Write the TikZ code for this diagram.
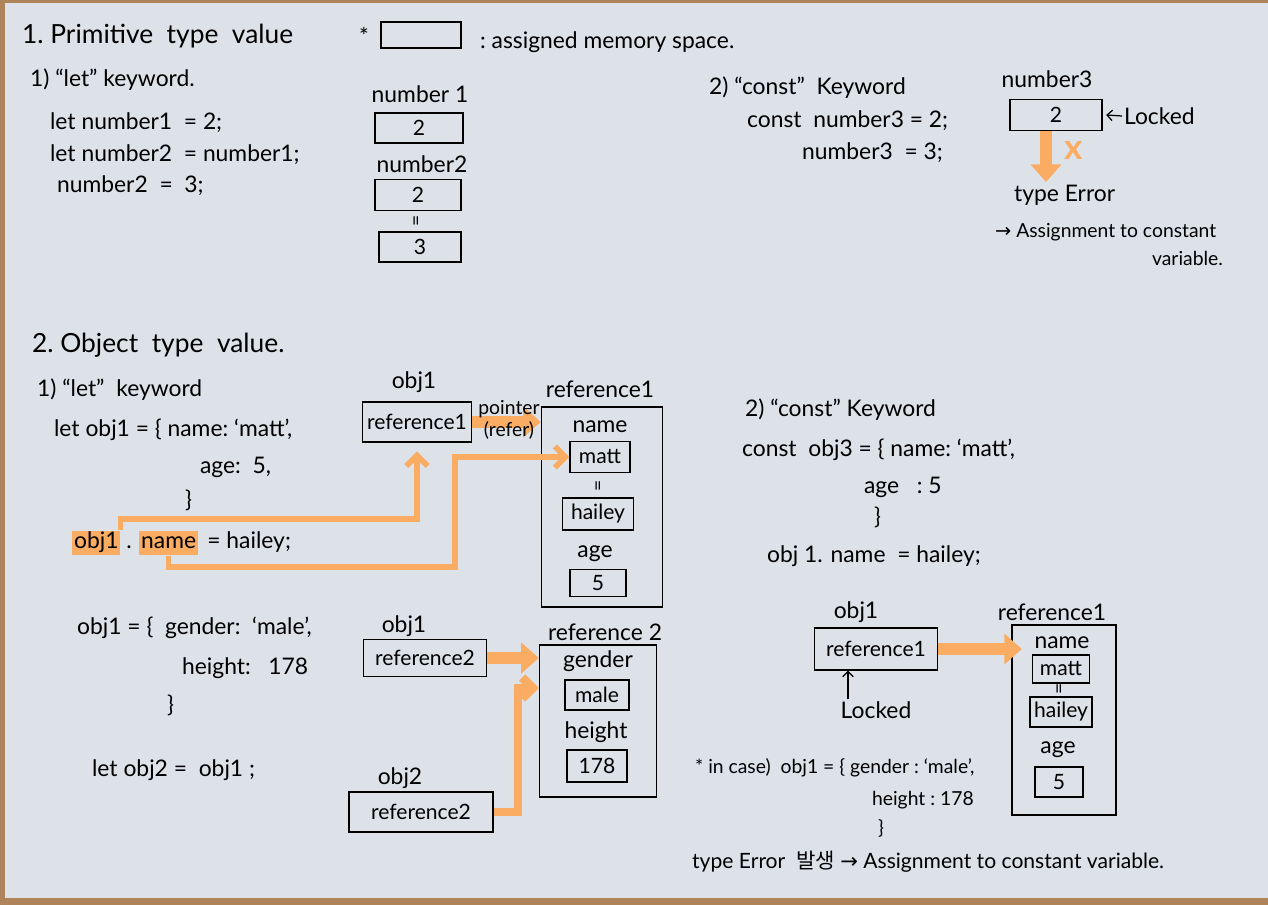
\documentclass[tikz,border=0pt]{standalone}
\usepackage{fontspec}
\setmainfont{Lato}
\newfontfamily\krfont{Noto Sans CJK KR}
\newfontfamily\symfont{DejaVu Sans}
\usetikzlibrary{arrows.meta,positioning}

\definecolor{paper}{RGB}{221,226,233}
\definecolor{wood}{RGB}{176,132,90}
\definecolor{marker}{RGB}{250,172,98}

\tikzset{
  hand/.style={inner sep=1pt, font=\fontsize{13}{15}\selectfont},
  small/.style={inner sep=1pt, font=\fontsize{11}{13}\selectfont},
  head/.style={inner sep=1pt, font=\fontsize{15}{18}\selectfont},
  inl/.style={hand, text height=9pt, text depth=3pt},
  membox/.style={draw, line width=0.8pt, inner sep=1pt, font=\fontsize{12}{14}\selectfont},
  pen/.style={line width=0.7pt},
  hlfat/.style={draw=marker, line width=7pt, -{Triangle[length=10pt,width=17pt]}},
  hlthin/.style={draw=marker, line width=3.2pt, -{Straight Barb[length=6pt,width=12pt]}},
  hlword/.style={fill=marker}
}

\begin{document}
\begin{tikzpicture}[x=0.02cm, y=-0.02cm]
    \useasboundingbox (0,0) rectangle (1268,905);
    \fill[paper] (0,0) rectangle (1268,905);
    \fill[wood] (0,0) rectangle (1268,3);
    \fill[wood] (0,0) rectangle (5,905);
    \fill[wood] (0,898) rectangle (1268,905);

    % 1. primitive type value
    \node at (20,36) [head, anchor=west] (title1) {1.\ Primitive\ \ type\ \ value};
    \node at (364,36) [hand] (star) {*};
    \node at (421,35) [membox, minimum width=1.6cm, minimum height=0.52cm] (legend) {};
    \node at (478,42) [hand, anchor=west] (legendtxt) {:\ assigned memory space.};

    \node at (28,80) [hand, anchor=west] (letA) {1)\ ``let''\ keyword.};
    \node at (48,123) [hand, anchor=west] (codeA) {let number1\ \ =\ 2;};
    \node at (48,155) [hand, anchor=west] (codeB) {let\ number2\ \ =\ number1;};
    \node at (55,186) [hand, anchor=west] (codeC) {number2\ \ =\ \ 3;};

    \node at (420,94) [hand] (num1lbl) {number 1};
    \node at (419,128) [membox, minimum width=1.76cm, minimum height=0.6cm] (num1) {2};
    \node at (422,164) [hand] (num2lbl) {number2};
    \node at (418,195) [membox, minimum width=1.72cm, minimum height=0.62cm] (num2) {2};
    \node at (418,221) [small, rotate=90] (eqnum) {=};
    \node at (420,247) [membox, minimum width=1.64cm, minimum height=0.6cm] (num2b) {3};

    \node at (707,88) [hand, anchor=west] (constA) {2)\ ``const''\ \ Keyword};
    \node at (745,121) [hand, anchor=west] (codeD) {const\ \ number3 = 2;};
    \node at (800,153) [hand, anchor=west] (codeE) {number3\ \ =\ 3;};

    \node at (1047,79) [hand] (num3lbl) {number3};
    \node at (1056,115) [membox, minimum width=1.84cm, minimum height=0.62cm] (num3) {2};
    \node at (1122,116) [hand, anchor=west] (lockA) {Locked};
    \node at (1074,150) [font=\bfseries\fontsize{20}{20}\selectfont, text=marker] (cross) {x};
    \node at (1012,195) [hand, anchor=west] (errA) {type Error};
    \node at (993,232) [small, anchor=west] (errB) {{\symfont →} Assignment\ to constant};
    \node at (1225,258) [small, anchor=east] (errC) {variable.};

    \draw[pen, -{Straight Barb[length=3pt]}] (lockA.west) -- ([xshift=2pt]num3.east);
    \coordinate (errtip) at (1046,182);
    \draw[hlfat] (num3.south -| errtip) -- (errtip);

    % 2. object type value
    \node at (30,345) [head, anchor=west] (title2) {2.\ Object\ \ type\ \ value.};
    \node at (35,390) [hand, anchor=west] (letB) {1)\ ``let''\ \ keyword};
    \node at (52,430) [hand, anchor=west] (codeF) {let\ obj1 = \{ name:\ `matt',};
    \node at (198,467) [hand, anchor=west] (codeG) {age:\ \ 5,};
    \node at (183,500) [hand, anchor=west] (codeH) {\}};

    \node at (72,543) [inl, hlword, anchor=west] (hlobj) {obj1};
    \node [inl, right=2pt of hlobj] (dotA) {.};
    \node [inl, hlword, right=3pt of dotA] (hlname) {name};
    \node [inl, right=4pt of hlname] (setA) {= hailey;};

    \node at (414,382) [hand] (obj1lblA) {obj1};
    \node at (417,422) [membox, minimum width=2.18cm, minimum height=0.8cm] (obj1a) {reference1};
    \node at (600,389) [hand] (ref1lblA) {reference1};
    \node at (602,507) [membox, minimum width=2.42cm, minimum height=4cm] (ref1a) {};
    \node at (600,427) [hand] (keyA) {name};
    \node at (600,457) [membox, minimum width=1.2cm, minimum height=0.62cm] (mattA) {matt};
    \node at (600,486) [small, rotate=90] (eqA) {=};
    \node at (598,514) [membox, minimum width=1.42cm, minimum height=0.64cm] (haileyA) {hailey};
    \node at (595,554) [hand] (keyB) {age};
    \node at (598,583) [membox, minimum width=1.12cm, minimum height=0.54cm] (fiveA) {5};

    \node at (75,628) [hand, anchor=west] (codeI) {obj1 = \{\ \ gender:\ \ `male',};
    \node at (180,668) [hand, anchor=west] (codeJ) {height:\ \ \ 178};
    \node at (165,705) [hand, anchor=west] (codeK) {\}};
    \node at (90,770) [hand, anchor=west] (codeL) {let\ obj2 =\ \ obj1\ ;};

    \node at (404,626) [hand] (obj1lblB) {obj1};
    \node at (425,658) [membox, minimum width=2.46cm, minimum height=0.74cm] (obj1b) {reference2};
    \node at (400,778) [hand] (obj2lbl) {obj2};
    \node at (421,812) [membox, minimum width=2.88cm, minimum height=0.8cm] (obj2b) {reference2};
    \node at (605,632) [hand] (ref2lbl) {reference 2};
    \node at (598,721) [membox, minimum width=2.34cm, minimum height=3.04cm] (ref2) {};
    \node at (598,661) [hand] (keyC) {gender};
    \node at (597,695) [membox, minimum width=1.28cm, minimum height=0.6cm] (maleB) {male};
    \node at (596,732) [hand] (keyD) {height};
    \node at (597,766) [membox, minimum width=1.2cm, minimum height=0.64cm] (heightB) {178};

    \node at (743,410) [hand, anchor=west] (constB) {2)\ ``const''\ Keyword};
    \node at (740,450) [hand, anchor=west] (codeM) {const\ \ obj3 = \{ name:\ `matt',};
    \node at (862,487) [hand, anchor=west] (codeN) {age\ \ \ :\ 5};
    \node at (872,517) [hand, anchor=west] (codeO) {\}};
    \node at (765,556) [hand, anchor=west] (codeP) {obj 1. name\ \ =\ hailey;};

    \node at (856,612) [hand] (obj1lblC) {obj1};
    \node at (876,649) [membox, minimum width=2.46cm, minimum height=0.84cm] (obj1c) {reference1};
    \node at (876,710) [hand] (lockB) {Locked};
    \node at (1052,612) [hand] (ref1lblC) {reference1};
    \node at (1064,720) [membox, minimum width=2.08cm, minimum height=3.8cm] (ref1c) {};
    \node at (1062,643) [hand] (keyE) {name};
    \node at (1061,669) [membox, minimum width=1.14cm, minimum height=0.56cm] (mattC) {matt};
    \node at (1061,689) [small, rotate=90] (eqC) {=};
    \node at (1061,712) [membox, minimum width=1.24cm, minimum height=0.6cm] (haileyC) {hailey};
    \node at (1058,750) [hand] (keyF) {age};
    \node at (1059,782) [membox, minimum width=0.96cm, minimum height=0.6cm] (fiveC) {5};

    \node at (693,768) [small, anchor=west] (caseA) {* in case)\ \ obj1 = \{ gender :\ `male',};
    \node at (870,800) [small, anchor=west] (caseB) {height :\ 178};
    \node at (876,828) [small, anchor=west] (caseC) {\}};
    \node at (690,862) [hand, font=\fontsize{12}{14}\selectfont, anchor=west] (errD) {type Error\ \ {\krfont 발생} {\symfont →} Assignment\ to\ constant\ variable.};

    \draw[pen, -{Straight Barb[length=3pt]}] ([xshift=-0.56cm]lockB.north) -- ([xshift=-0.56cm]obj1c.south);

    % orange marker
    \coordinate (turnA) at (0,519);
    \draw[hlthin] (hlobj.north east) |- (turnA -| obj1a.south) -- ([yshift=-5pt]obj1a.south);
    \coordinate (turnB) at (455,567);
    \draw[hlthin] (hlname.south) |- (turnB) |- (mattA.west);

    \draw[hlfat] (obj1a.east) -- (obj1a.east -| ref1a.west);
    \node at (509,409) [small] (ptrA) {pointer};
    \node at (509,430) [small] (ptrB) {(refer)};

    \draw[hlfat] (obj1b.east) -- (obj1b.east -| ref2.west);
    \coordinate (turnC) at (518,688);
    \draw[hlthin, line width=5pt] (obj2b.east) -| (turnC) -- (turnC -| ref2.west);

    \draw[hlfat, shorten >=-6pt] (obj1c.east) -- (obj1c.east -| ref1c.west);
\end{tikzpicture}
\end{document}
